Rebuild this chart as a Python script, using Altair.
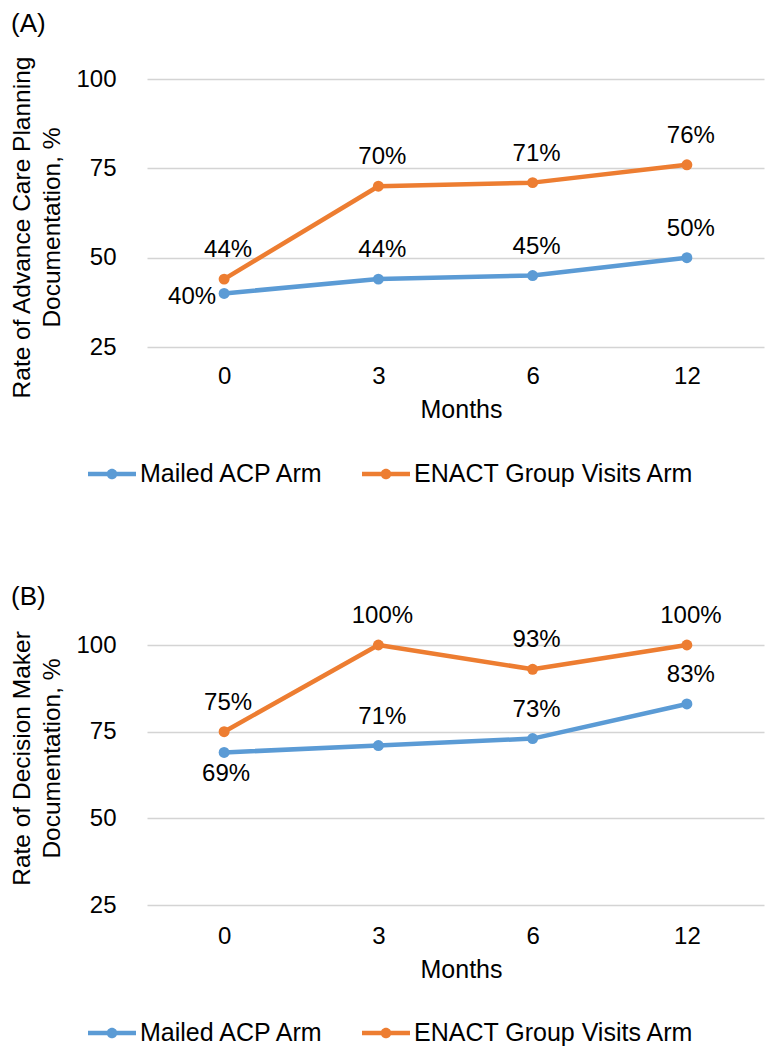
import altair as alt
import pandas as pd

months = ["0", "3", "6", "12"]
arms = ["Mailed ACP Arm", "ENACT Group Visits Arm"]
acp_mailed = [40, 44, 45, 50]
acp_enact = [44, 70, 71, 76]
dm_mailed = [69, 71, 73, 83]
dm_enact = [75, 100, 93, 100]
y_ticks = [25, 50, 75, 100]
letters = ["(A)", "(B)"]
y_titles = [["Rate of Advance Care Planning", "Documentation, %"],
            ["Rate of Decision Maker", "Documentation, %"]]
colors = ["#5B9BD5", "#ED7D31"]

FONT = "Liberation Sans"
LEGEND_PATH = ("M-1,-0.09L1,-0.09L1,0.09L-1,0.09Z "
               "M0.22,0A0.22,0.22,0,1,1,-0.22,0A0.22,0.22,0,1,1,0.22,0Z")


def long_df(mailed, enact):
    rows = []
    for arm, vals in zip(arms, [mailed, enact]):
        for m, v in zip(months, vals):
            rows.append({"Month": m, "Arm": arm, "Rate": v, "Label": f"{v}%"})
    return pd.DataFrame(rows)


def panel(df, letter, ytitle, height, ytitle_y, xlab_pad, xtitle_y,
          legend_y, first_dx, first_dy, first_align, letter_y):
    x = alt.X(
        "Month:N", sort=months,
        scale=alt.Scale(type="point", padding=0.5),
        axis=alt.Axis(
            title="Months", labelAngle=0, labelFontSize=24, labelFont=FONT,
            labelColor="#000", labelPadding=xlab_pad, domain=False,
            ticks=False, tickSize=0, grid=False, titleFont=FONT,
            titleFontSize=25, titleFontWeight="normal", titleColor="#000",
            titleX=314, titleY=xtitle_y, titleAlign="center",
            titleBaseline="top"),
    )
    y = alt.Y(
        "Rate:Q",
        scale=alt.Scale(domain=[25, 100], nice=False, zero=False),
        axis=alt.Axis(
            values=y_ticks, title=ytitle, labelFontSize=24, labelFont=FONT,
            labelColor="#000", labelPadding=31, domain=False, ticks=False,
            tickSize=0, grid=True, gridColor="#D4D4D4", gridWidth=1.5,
            titleFont=FONT, titleFontSize=24.5, titleFontWeight="normal",
            titleColor="#000", titleAngle=270, titleAlign="center",
            titleBaseline="middle", titleLineHeight=30, titleX=-125,
            titleY=ytitle_y),
    )
    cscale = alt.Scale(domain=arms, range=colors)
    leg = alt.Legend(
        orient="none", legendX=-59, legendY=legend_y,
        direction="horizontal", symbolType=LEGEND_PATH, symbolSize=2304,
        symbolStrokeWidth=0, symbolOpacity=1,
        labelFont=FONT, labelFontSize=25, labelColor="#000", labelLimit=600,
        labelOffset=4, columnPadding=37)
    base = alt.Chart(df)
    line = base.mark_line(strokeWidth=4.5, strokeCap="round",
                          strokeJoin="round").encode(
        x=x, y=y, color=alt.Color("Arm:N", scale=cscale, legend=leg,
                                  title=""))
    pts = base.mark_circle(size=120, opacity=1).encode(
        x=x, y=y, color=alt.Color("Arm:N", scale=cscale, legend=leg,
                                  title=""))
    lab_above = base.transform_filter(
        "!(datum.Arm == 'Mailed ACP Arm' && datum.Month == '0')"
    ).mark_text(fontSize=24, font=FONT, color="#000", dx=4, dy=-29,
                baseline="middle", align="center").encode(
        x=x, y=y, text="Label:N")
    lab_first = base.transform_filter(
        "datum.Arm == 'Mailed ACP Arm' && datum.Month == '0'"
    ).mark_text(fontSize=24, font=FONT, color="#000", dx=first_dx,
                dy=first_dy, baseline="middle", align=first_align).encode(
        x=x, y=y, text="Label:N")
    let = alt.Chart(pd.DataFrame({"t": [letter]})).mark_text(
        fontSize=26, font=FONT, color="#000", align="left",
        baseline="middle").encode(
        text="t:N", x=alt.value(-136), y=alt.value(letter_y))
    return alt.layer(line, pts, lab_above, lab_first, let).properties(
        width=617, height=height)


panel_a = panel(long_df(acp_mailed, acp_enact), letters[0], y_titles[0],
                268, 148, 17, 50, 371, -8, 4, "right", -55)
panel_b = panel(long_df(dm_mailed, dm_enact), letters[1], y_titles[1],
                260, 113, 19, 52, 364, 2, 22, "center", -48)

chart = alt.vconcat(panel_a, panel_b, spacing=298, bounds="flush").resolve_scale(
    x="independent", y="independent", color="independent"
).resolve_legend(color="independent").properties(
    padding={"left": 0, "top": 2, "right": 0, "bottom": 0}
).configure_view(stroke="transparent")

chart.save("out.html", embed_options={"renderer": "svg", "actions": False})
